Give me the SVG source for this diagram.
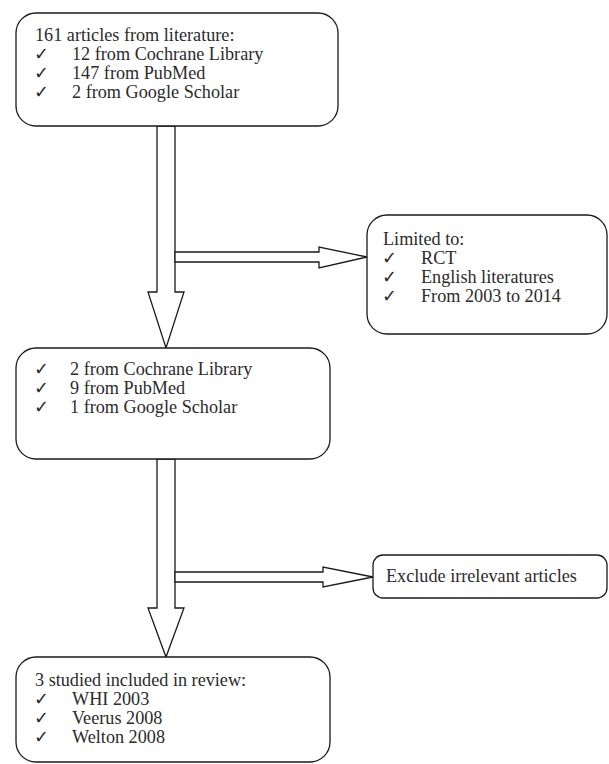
<svg xmlns="http://www.w3.org/2000/svg" width="609" height="764" viewBox="0 0 609 764">
<style>
.box{fill:#fff;stroke:#1a1a1a;stroke-width:1.3}
.arr{fill:#fff;stroke:#1a1a1a;stroke-width:1.3;stroke-linejoin:miter}
.t{font-family:"Liberation Serif","Times New Roman",serif;font-size:18.2px;fill:#2b2b2b}
.c{font-family:"DejaVu Sans",sans-serif;font-size:18px;fill:#2b2b2b}
</style>
<rect width="609" height="764" fill="#fff"/>
<g id="connectors">
<polygon class="arr" points="157,126 175,126 175,292 184,292 166,348 148,292 157,292"/>
<polygon class="arr" points="175,252 319,252 319,247 367,257 319,268 319,262 175,262"/>
<polygon class="arr" points="157,459 175,459 175,608 184,608 166,657 148,608 157,608"/>
<polygon class="arr" points="175,572 323,572 323,567 373,577 323,587 323,582 175,582"/>
</g>
<g id="node1">
<rect class="box" x="16" y="13" width="322" height="113" rx="20"/>
<text class="t" x="35" y="41">161 articles from literature:</text>
<text class="c" x="34" y="60">✓</text><text class="t" x="72" y="60">12 from Cochrane Library</text>
<text class="c" x="34" y="79">✓</text><text class="t" x="72" y="79">147 from PubMed</text>
<text class="c" x="34" y="98">✓</text><text class="t" x="72" y="98">2 from Google Scholar</text>
</g>
<g id="node2">
<rect class="box" x="367" y="215" width="240" height="119" rx="20"/>
<text class="t" x="383" y="245">Limited to:</text>
<text class="c" x="382" y="264">✓</text><text class="t" x="421" y="264">RCT</text>
<text class="c" x="382" y="283">✓</text><text class="t" x="421" y="283">English literatures</text>
<text class="c" x="382" y="302">✓</text><text class="t" x="421" y="302">From 2003 to 2014</text>
</g>
<g id="node3">
<rect class="box" x="16" y="348" width="314" height="111" rx="20"/>
<text class="c" x="34" y="375">✓</text><text class="t" x="70" y="375">2 from Cochrane Library</text>
<text class="c" x="34" y="394">✓</text><text class="t" x="70" y="394">9 from PubMed</text>
<text class="c" x="34" y="413">✓</text><text class="t" x="70" y="413">1 from Google Scholar</text>
</g>
<g id="node4">
<rect class="box" x="373" y="555" width="234" height="43" rx="10"/>
<text class="t" x="386" y="582">Exclude irrelevant articles</text>
</g>
<g id="node5">
<rect class="box" x="16" y="657" width="314" height="105" rx="20"/>
<text class="t" x="35" y="686">3 studied included in review:</text>
<text class="c" x="34" y="705">✓</text><text class="t" x="72" y="705">WHI 2003</text>
<text class="c" x="34" y="724">✓</text><text class="t" x="72" y="724">Veerus 2008</text>
<text class="c" x="34" y="743">✓</text><text class="t" x="72" y="743">Welton 2008</text>
</g>
</svg>
